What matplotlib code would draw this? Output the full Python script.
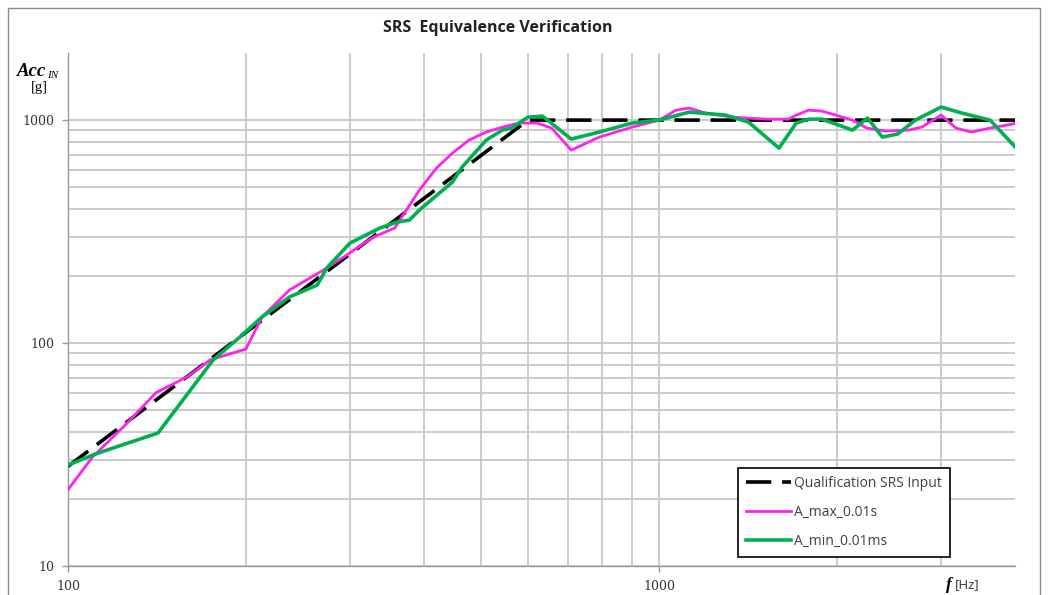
import matplotlib
matplotlib.use('Agg')
from matplotlib import pyplot as plt
from matplotlib.ticker import FixedLocator, NullFormatter, FixedFormatter
from matplotlib.patches import Rectangle

# qualification SRS input (dashed)
ref_f = [100, 600, 4000]
ref_acc = [28, 1000, 1000]

# A_max_0.01s
max_f = [100, 110, 124, 141, 159, 174, 200, 213, 237, 270, 296, 328, 357, 393,
         420, 447, 477, 510, 543, 579, 621, 658, 710, 792, 900, 1000, 1068, 1124,
         1200, 1327, 1516, 1655, 1706, 1791, 1886, 2124, 2245, 2417, 2645, 2781,
         3000, 3178, 3374, 3630, 4000]
max_acc = [22, 30.8, 42, 60, 70.5, 84, 94, 131, 173, 212, 248, 298, 328, 485,
           609, 711, 814, 884, 930, 970, 970, 921, 733, 839, 930, 1000, 1108, 1132,
           1075, 1031, 1010, 1010, 1053, 1108, 1098, 1000, 921, 893, 902, 930,
           1053, 921, 884, 921, 965]

# A_min_0.01ms
min_f = [100, 112, 142, 176, 195, 213, 237, 264, 274, 300, 337, 360, 378, 393,
         425, 447, 464, 510, 543, 563, 600, 635, 710, 792, 900, 1000, 1124, 1296,
         1417, 1595, 1706, 1791, 1886, 2124, 2252, 2386, 2532, 2713, 3000, 3254,
         3630, 4000]
min_acc = [28.4, 32, 39.5, 84, 106, 131, 161, 182, 217, 281, 328, 349, 356, 395,
           471, 527, 615, 814, 902, 921, 1031, 1042, 822, 884, 970, 1000, 1086, 1053,
           979, 749, 970, 1010, 1010, 902, 1021, 839, 866, 1000, 1144, 1075,
           1000, 760]

x_major = [100, 1000]
x_minor = [200, 300, 400, 500, 600, 700, 800, 900, 2000, 3000]
y_major = [10, 100, 1000]
y_minor = [20, 30, 40, 50, 60, 70, 80, 90, 200, 300, 400, 500, 600, 700, 800, 900]

W, H = 1051, 595
fig = plt.figure(figsize=(W / 100, H / 100), dpi=100)
ax = fig.add_axes([68 / W, 1 - 566 / H, (1015 - 68) / W, (566 - 53) / H])

grid_c = '#c8c8c8'
ax.set_xscale('log')
ax.set_yscale('log')
ax.set_xlim(100, 4000)
ax.set_ylim(10, 2000)

ax.xaxis.set_major_locator(FixedLocator(x_major))
ax.xaxis.set_major_formatter(FixedFormatter([str(v) for v in x_major]))
ax.xaxis.set_minor_locator(FixedLocator(x_minor))
ax.xaxis.set_minor_formatter(NullFormatter())
ax.yaxis.set_major_locator(FixedLocator(y_major))
ax.yaxis.set_major_formatter(FixedFormatter([str(v) for v in y_major]))
ax.yaxis.set_minor_locator(FixedLocator(y_minor))
ax.yaxis.set_minor_formatter(NullFormatter())

ax.grid(True, which='both', color=grid_c, linewidth=1.3)
ax.set_axisbelow(True)
ax.tick_params(which='major', direction='out', length=4, width=1, color='#999999',
               labelsize=9, pad=6)
ax.tick_params(which='minor', length=0)
for lab in ax.get_xticklabels() + ax.get_yticklabels():
    lab.set_fontfamily('DejaVu Serif')
    lab.set_color('#333333')
for side in ['top', 'right']:
    ax.spines[side].set_visible(False)
for side in ['left', 'bottom']:
    ax.spines[side].set_color('#999999')
    ax.spines[side].set_linewidth(1)

ax.plot(ref_f, ref_acc, color='black', linewidth=2.6, dashes=(7, 3),
        label='Qualification SRS Input', zorder=3)
ax.plot(max_f, max_acc, color='#ff22ee', linewidth=2, label='A_max_0.01s', zorder=4)
ax.plot(min_f, min_acc, color='#00b050', linewidth=2.6, label='A_min_0.01ms', zorder=5)

leg = ax.legend(loc='lower left', bbox_to_anchor=(0.7075, 0.0175),
                prop={'family': 'Open Sans', 'size': 10}, frameon=True, fancybox=False,
                edgecolor='black', framealpha=1, handlelength=3.2, labelspacing=1.0,
                handletextpad=0.2, borderpad=0.6, borderaxespad=0)
leg.get_frame().set_linewidth(1.2)
for t in leg.get_texts():
    t.set_color('#404040')

fig.text(498 / W, 1 - 28 / H, 'SRS  Equivalence Verification', ha='center', va='center',
         fontsize=11.5, fontweight='bold', family='Open Sans', color='#222222')

fig.text(17 / W, 1 - 71 / H, 'Acc', ha='left', va='center', fontsize=13.5,
         fontweight='bold', fontstyle='italic', family='Liberation Serif')
fig.text(47 / W, 1 - 75 / H, 'IN', ha='left', va='center', fontsize=8,
         fontstyle='italic', family='Liberation Serif')
fig.text(39 / W, 1 - 88 / H, '[g]', ha='center', va='center', fontsize=10.5,
         family='Liberation Serif')

fig.text(952 / W, 1 - 585 / H, 'f', ha='right', va='center', fontsize=12.5,
         fontweight='bold', fontstyle='italic', family='Liberation Serif')
fig.text(955 / W, 1 - 585 / H, '[Hz]', ha='left', va='center', fontsize=9.5,
         family='Open Sans', color='#333333')

# outer chart border
fig.add_artist(Rectangle((8 / W, -0.05), (1040 - 8) / W, 1.05 - 8 / H,
                         transform=fig.transFigure, fill=False,
                         edgecolor='#8c8c8c', linewidth=1, clip_on=False))

plt.savefig('out.png', dpi=100)
